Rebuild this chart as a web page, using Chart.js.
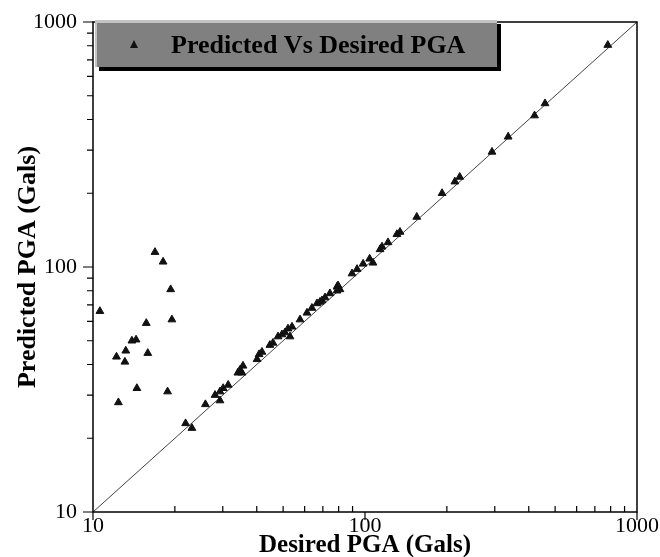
<!DOCTYPE html>
<html>
<head>
<meta charset="utf-8">
<script src="https://cdn.jsdelivr.net/npm/chart.js@4"></script>
<style>
  html, body { margin: 0; padding: 0; background: #fff; }
  #wrap { width: 660px; height: 557px; }
</style>
</head>
<body>
<div id="wrap"><canvas id="pgaChart" width="660" height="557"></canvas></div>
<script>
// desired PGA (x) and predicted PGA (y), in Gals
const desired = [
  10.6, 12.2, 12.4, 13.1, 13.2, 13.9, 14.4, 14.5, 15.7, 15.9, 16.9, 18.1, 18.8, 19.3, 19.5,
  21.9, 23.1, 25.9, 28.1, 29.3, 29.3, 30.1, 31.4, 34.1, 34.7, 35.3, 35.6,
  40.1, 40.8, 41.8, 44.7, 45.9, 47.9, 49.5, 50.8, 52.1, 53.0, 53.9, 57.7,
  61.2, 63.8, 66.6, 68.3, 69.5, 71.3, 74.3, 78.9, 79.6, 78.9, 80.9,
  89.6, 93.5, 98.4, 104, 107, 113.6, 115.5, 121.5, 131, 134.5, 155,
  192, 214, 223, 293, 336, 420, 459, 781
];
const predicted = [
  66, 43, 28, 41, 45.5, 50, 50.5, 32, 59, 44.5, 115, 105, 31, 81, 61,
  23, 22, 27.5, 30, 31, 28.5, 32, 33, 37, 38, 37, 39.5,
  42, 44, 45, 48, 49, 52, 53, 54, 56, 52, 57, 61,
  65, 68, 71, 72, 73, 75, 78, 83, 84, 80, 81,
  94, 98, 103, 108, 104, 118, 121, 126, 136, 139, 160,
  200, 223, 233, 295, 340, 415, 465, 805
];
const lineX = [10, 1000];
const lineY = [10, 1000];
const majorTicks = [10, 100, 1000];
const seriesLabel = 'Predicted Vs Desired PGA';

const serif = '"Liberation Serif", "DejaVu Serif", serif';

const points = desired.map((x, i) => ({ x, y: predicted[i] }));
const diag = lineX.map((x, i) => ({ x, y: lineY[i] }));

// frame, tick marks and the boxed legend
const framePlugin = {
  id: 'frame',
  afterDraw(chart) {
    const { ctx, chartArea: a, scales } = chart;
    const xs = scales.x, ys = scales.y;
    ctx.save();
    ctx.strokeStyle = '#000';
    ctx.lineWidth = 1.5;
    ctx.strokeRect(a.left, a.top, a.right - a.left, a.bottom - a.top);

    ctx.lineWidth = 1.2;
    ctx.beginPath();
    for (let d = 10; d < 1000; d *= 10) {
      for (let m = 1; m <= 10; m++) {
        const v = d * m;
        const major = majorTicks.includes(v);
        const py = ys.getPixelForValue(v);
        ctx.moveTo(a.left, py);
        ctx.lineTo(a.left - (major ? 10 : 6), py);
        const px = xs.getPixelForValue(v);
        if (major) {
          ctx.moveTo(px, a.bottom);
          ctx.lineTo(px, a.bottom + 8);
        } else {
          ctx.moveTo(px, a.bottom);
          ctx.lineTo(px, a.bottom - 6);
        }
      }
    }
    ctx.stroke();

    // legend box with drop shadow
    const bx = a.left + 2, by = 20, bw = 402, bh = 47;
    ctx.fillStyle = '#000';
    ctx.fillRect(bx + 4, by + 4, bw, bh);
    ctx.fillStyle = '#808080';
    ctx.fillRect(bx, by, bw, bh);
    ctx.fillStyle = '#c4c4c4';
    ctx.fillRect(bx, by, bw, 3);
    ctx.fillRect(bx, by, 2, bh);

    ctx.fillStyle = '#111';
    ctx.beginPath();
    const tx = bx + 39, ty = by + 25;
    ctx.moveTo(tx, ty - 5);
    ctx.lineTo(tx + 4, ty + 3);
    ctx.lineTo(tx - 4, ty + 3);
    ctx.closePath();
    ctx.fill();

    ctx.font = 'bold 26px ' + serif;
    ctx.textBaseline = 'middle';
    ctx.fillStyle = '#000';
    ctx.fillText(seriesLabel, bx + 76, by + 26);
    ctx.restore();
  }
};

new Chart(document.getElementById('pgaChart'), {
  type: 'scatter',
  data: {
    datasets: [
      {
        label: seriesLabel,
        data: points,
        pointStyle: 'triangle',
        pointRadius: 4.5,
        backgroundColor: '#111',
        borderColor: '#111',
        borderWidth: 1
      },
      {
        label: 'y = x',
        data: diag,
        showLine: true,
        borderColor: '#444',
        borderWidth: 1,
        pointRadius: 0
      }
    ]
  },
  options: {
    responsive: false,
    animation: false,
    layout: { padding: { top: 22, right: 23, left: 0, bottom: 0 } },
    plugins: { legend: { display: false }, tooltip: { enabled: false } },
    scales: {
      x: {
        type: 'logarithmic',
        min: 10, max: 1000,
        grid: { display: false, drawTicks: false },
        border: { display: false },
        ticks: {
          color: '#000', padding: 1, maxRotation: 0, autoSkip: false,
          font: { family: serif, size: 22 },
          callback: v => majorTicks.includes(v) ? String(v) : ''
        },
        title: {
          display: true, text: 'Desired PGA (Gals)', color: '#000',
          font: { family: serif, size: 25, weight: 'bold', lineHeight: 1 },
          padding: { top: 0, bottom: -1 }
        },
        afterFit: s => { s.height = 45; s.paddingLeft = 0; s.paddingRight = 0; }
      },
      y: {
        type: 'logarithmic',
        min: 10, max: 1000,
        grid: { display: false, drawTicks: false },
        border: { display: false },
        ticks: {
          color: '#000', padding: 16, autoSkip: false,
          font: { family: serif, size: 22 },
          callback: v => majorTicks.includes(v) ? String(v) : ''
        },
        title: {
          display: true, text: 'Predicted PGA (Gals)', color: '#000',
          font: { family: serif, size: 26, weight: 'bold', lineHeight: 1 },
          padding: { top: 15, bottom: 0 }
        },
        afterFit: s => { s.width = 93; s.paddingTop = 0; s.paddingBottom = 0; }
      }
    }
  },
  plugins: [framePlugin]
});
</script>
</body>
</html>
